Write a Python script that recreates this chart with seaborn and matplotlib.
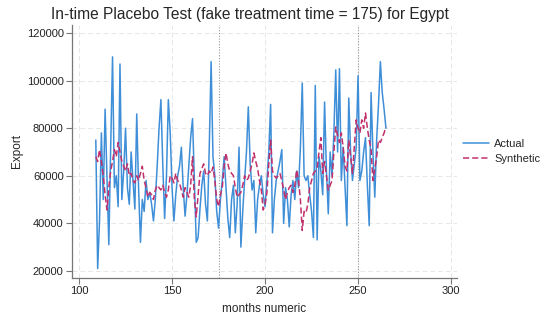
import matplotlib
matplotlib.use("Agg")
import matplotlib.pyplot as plt
import seaborn as sns
import pandas as pd

months = list(range(109, 266))

actual = [
    75000, 21000, 41000, 78000, 50000, 88000, 60000, 31000, 72000, 110000,
    55000, 60000, 47000, 107000, 50000, 62000, 80000, 55000, 48000, 70000,
    58000, 46000, 86000, 55000, 32000, 50000, 45000, 58000, 50000, 53000,
    48000, 41000, 50000, 64000, 80000, 92000, 65000, 42000, 60000, 92000,
    78000, 55000, 41000, 52000, 60000, 64000, 72000, 55000, 43000, 52000,
    64000, 76000, 84000, 58000, 32000, 34000, 46000, 56000, 62000, 48000,
    41000, 72000, 108000, 68000, 60000, 45000, 38000, 50000, 58000, 68000,
    55000, 42000, 34000, 50000, 56000, 36000, 48000, 72000, 30000, 45000,
    58000, 70000, 89000, 65000, 54000, 58000, 36000, 50000, 56000, 60000,
    52000, 47000, 58000, 70000, 90000, 36000, 50000, 58000, 62000, 66000,
    71000, 40000, 55000, 50000, 38500, 52000, 58000, 50000, 62000, 55000,
    72000, 99000, 60000, 58000, 60000, 52000, 45000, 34000, 98000, 33000,
    68000, 62000, 52000, 91000, 62000, 44000, 70000, 60000, 78000, 104500,
    70000, 105000, 58000, 72000, 55000, 39000, 92700, 70000, 58000, 65000,
    72000, 102000, 58000, 62000, 70000, 76000, 56000, 39000, 95000, 70000,
    51000, 75000, 90000, 108000, 95000, 88000, 80000,
]

synthetic = [
    68000, 66000, 71000, 66000, 60000, 52000, 45600, 55000, 62000, 66000,
    71000, 68000, 74000, 70000, 66000, 64000, 62000, 65000, 60000, 61000,
    58000, 57000, 60000, 58000, 61000, 64000, 58000, 55000, 51000, 53000,
    52000, 50000, 54000, 56000, 55000, 54000, 56000, 53000, 51000, 54000,
    60000, 59000, 57000, 61000, 58000, 57000, 54000, 51000, 55000, 53000,
    51000, 56000, 68000, 50000, 42700, 52000, 61000, 63000, 65000, 61000,
    60000, 62000, 61000, 63700, 58000, 50000, 47000, 52000, 55000, 64000,
    69600, 65000, 62000, 61000, 60000, 55000, 51000, 52000, 53000, 56000,
    60000, 58000, 59000, 62000, 65000, 69600, 66000, 63000, 58000, 54000,
    45600, 48000, 53000, 65000, 75000, 62000, 60000, 59000, 60000, 61000,
    58000, 54000, 50000, 53000, 55000, 56000, 53000, 56000, 62400, 58000,
    50000, 37000, 45000, 44400, 48000, 55000, 58000, 61000, 62000, 63000,
    70000, 76000, 61000, 66000, 60000, 54000, 56000, 58000, 70000, 80500,
    77000, 74000, 78000, 72000, 64000, 62000, 75000, 68000, 61000, 72000,
    83500, 80000, 78000, 83500, 80000, 86400, 80000, 75000, 71000, 58000,
    63000, 68000, 75000, 74000, 76000, 78000, 80500,
]

n = min(len(months), len(actual), len(synthetic))
df = pd.DataFrame({"month": months[:n], "Actual": actual[:n], "Synthetic": synthetic[:n]})

sns.set_theme(style="white")
plt.rcParams["font.family"] = ["Liberation Sans", "DejaVu Sans"]

fig = plt.figure(figsize=(5.51, 3.2), dpi=100)
ax = fig.add_axes([72/551, 1-278/320, (457-72)/551, (278-25)/320])

blue = "#3f8fd8"
red = "#c2306b"
sns.lineplot(data=df, x="month", y="Actual", ax=ax, color=blue, linewidth=1.1, label="Actual")
sns.lineplot(data=df, x="month", y="Synthetic", ax=ax, color=red, linewidth=1.1,
             linestyle=(0, (4, 2)), label="Synthetic")

ax.set_xlim(96.2, 303.2)
ax.set_ylim(17000, 123400)
ax.set_xticks([100, 150, 200, 250, 300])
ax.set_yticks([20000, 40000, 60000, 80000, 100000, 120000])
ax.set_yticklabels(["20000", "40000", "60000", "80000", "100000", "120000"])

ax.grid(True, color="#e6e6e6", linestyle=(0, (5, 3)), linewidth=0.7)
ax.set_axisbelow(True)
for x0 in [175, 250]:
    ax.axvline(x0, color="#999999", linestyle=(0, (1, 1.5)), linewidth=0.8, zorder=1)

for s in ["top", "right"]:
    ax.spines[s].set_visible(False)
for s in ["left", "bottom"]:
    ax.spines[s].set_color("#777777")
    ax.spines[s].set_linewidth(0.9)
ax.tick_params(axis="both", which="both", direction="out", length=4, width=0.8,
               color="#777777", labelsize=8, labelcolor="#222222", pad=2,
               left=True, bottom=True)

ax.set_xlabel("months numeric", fontsize=8.5, labelpad=5)
ax.set_ylabel("Export", fontsize=8.5, labelpad=3)
ax.set_title("In-time Placebo Test (fake treatment time = 175) for Egypt",
             fontsize=11.2, pad=4, x=0.462)

leg = ax.legend(loc="center left", bbox_to_anchor=(0.99, 0.5), frameon=False,
                fontsize=8, handlelength=2.3, handletextpad=0.5, labelspacing=0.5)

fig.savefig("out.png", dpi=100)
